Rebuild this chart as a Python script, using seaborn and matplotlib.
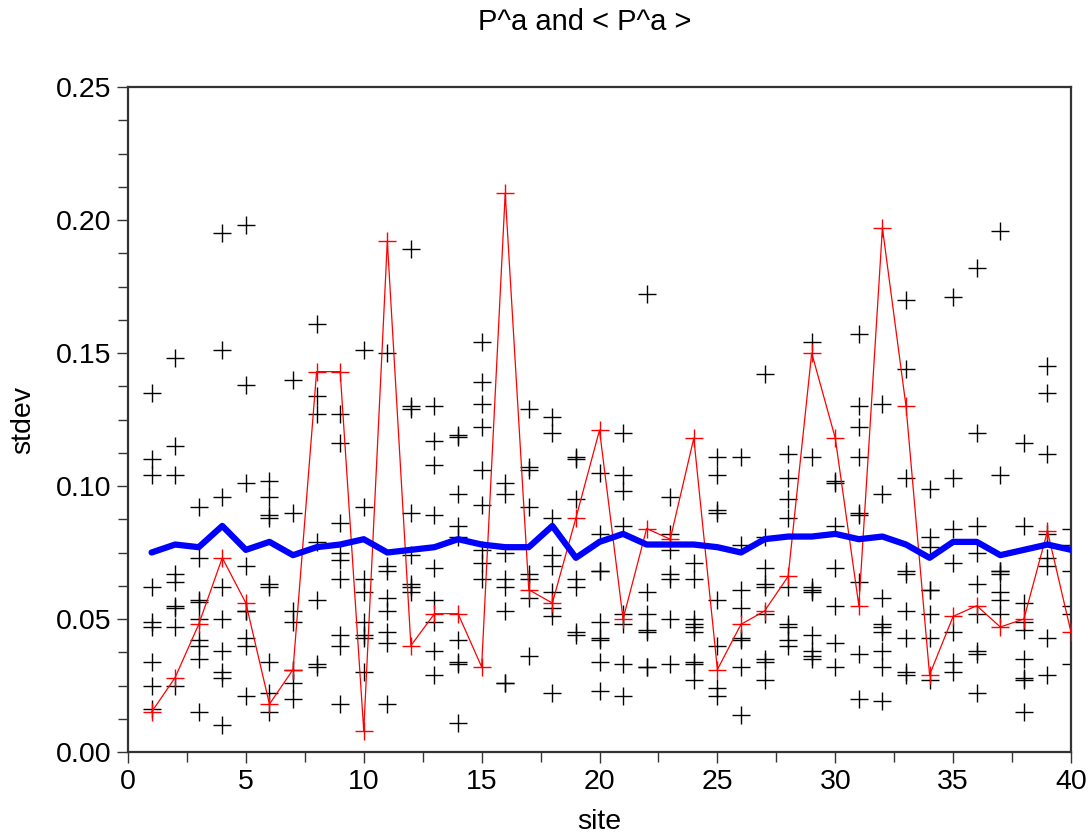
import numpy as np
import pandas as pd
import matplotlib
matplotlib.use("Agg")
import matplotlib.pyplot as plt
import seaborn as sns
from matplotlib.ticker import MultipleLocator, FormatStrFormatter

# ---------------- data ----------------
sites = list(range(1, 41))

# individual P^a samples (black crosses) per site
samples = [
    [0.135, 0.110, 0.104, 0.062, 0.049, 0.047, 0.034, 0.025, 0.016],
    [0.148, 0.115, 0.104, 0.067, 0.064, 0.055, 0.054, 0.047, 0.025],
    [0.092, 0.073, 0.057, 0.0565, 0.050, 0.042, 0.040, 0.035, 0.015],
    [0.195, 0.151, 0.096, 0.062, 0.050, 0.038, 0.030, 0.028, 0.010],
    [0.198, 0.138, 0.101, 0.070, 0.053, 0.053, 0.043, 0.040, 0.021],
    [0.102, 0.096, 0.089, 0.088, 0.063, 0.062, 0.034, 0.022, 0.015],
    [0.140, 0.090, 0.053, 0.049, 0.031, 0.026, 0.020],
    [0.161, 0.134, 0.127, 0.079, 0.057, 0.033, 0.032],
    [0.127, 0.116, 0.086, 0.075, 0.072, 0.065, 0.044, 0.040, 0.018],
    [0.151, 0.092, 0.065, 0.060, 0.049, 0.044, 0.043, 0.030],
    [0.150, 0.070, 0.068, 0.058, 0.053, 0.045, 0.041, 0.018],
    [0.189, 0.130, 0.129, 0.090, 0.074, 0.063, 0.062, 0.060],
    [0.130, 0.117, 0.108, 0.089, 0.069, 0.057, 0.049, 0.038, 0.029],
    [0.119, 0.1185, 0.097, 0.085, 0.081, 0.042, 0.034, 0.033, 0.011],
    [0.154, 0.139, 0.131, 0.122, 0.106, 0.093, 0.076, 0.071, 0.065],
    [0.101, 0.097, 0.075, 0.065, 0.062, 0.053, 0.026, 0.026],
    [0.129, 0.107, 0.106, 0.092, 0.067, 0.065, 0.058, 0.036],
    [0.126, 0.120, 0.088, 0.074, 0.070, 0.060, 0.054, 0.051, 0.022],
    [0.111, 0.110, 0.095, 0.065, 0.062, 0.045, 0.044],
    [0.105, 0.082, 0.068, 0.068, 0.049, 0.043, 0.042, 0.034, 0.023],
    [0.120, 0.104, 0.098, 0.085, 0.052, 0.048, 0.033, 0.021],
    [0.172, 0.060, 0.052, 0.046, 0.045, 0.032, 0.032],
    [0.096, 0.082, 0.076, 0.067, 0.065, 0.050, 0.033],
    [0.071, 0.065, 0.050, 0.048, 0.047, 0.045, 0.034, 0.033, 0.027],
    [0.111, 0.104, 0.091, 0.090, 0.057, 0.040, 0.024, 0.021],
    [0.111, 0.078, 0.061, 0.054, 0.043, 0.042, 0.032, 0.014],
    [0.142, 0.081, 0.069, 0.063, 0.062, 0.052, 0.035, 0.034, 0.027],
    [0.112, 0.103, 0.095, 0.088, 0.062, 0.048, 0.047, 0.042, 0.040],
    [0.154, 0.111, 0.062, 0.061, 0.060, 0.044, 0.038, 0.036, 0.035],
    [0.102, 0.101, 0.085, 0.069, 0.055, 0.041, 0.032],
    [0.157, 0.130, 0.122, 0.111, 0.090, 0.089, 0.064, 0.037, 0.020],
    [0.131, 0.097, 0.058, 0.048, 0.047, 0.045, 0.038, 0.032, 0.019],
    [0.170, 0.144, 0.103, 0.068, 0.067, 0.053, 0.043, 0.030, 0.029],
    [0.099, 0.081, 0.077, 0.061, 0.061, 0.052, 0.043, 0.027],
    [0.171, 0.103, 0.084, 0.071, 0.045, 0.034, 0.030],
    [0.182, 0.120, 0.085, 0.075, 0.063, 0.052, 0.038, 0.037, 0.022],
    [0.196, 0.104, 0.068, 0.068, 0.067, 0.060, 0.057, 0.052],
    [0.116, 0.085, 0.056, 0.049, 0.046, 0.035, 0.028, 0.027, 0.015],
    [0.145, 0.135, 0.112, 0.082, 0.073, 0.070, 0.043, 0.029],
    [0.084, 0.078, 0.068, 0.055, 0.052, 0.033],
]

# one highlighted sample (red)
red_values = [0.015, 0.028, 0.048, 0.073, 0.056, 0.018, 0.031, 0.143, 0.143, 0.008,
              0.192, 0.040, 0.052, 0.052, 0.032, 0.210, 0.061, 0.056, 0.088, 0.121,
              0.050, 0.084, 0.080, 0.118, 0.031, 0.048, 0.053, 0.066, 0.150, 0.118,
              0.055, 0.197, 0.130, 0.029, 0.051, 0.055, 0.047, 0.050, 0.083, 0.045]

# average < P^a > (blue)
mean_values = [0.075, 0.078, 0.077, 0.085, 0.076, 0.079, 0.074, 0.077, 0.078, 0.080,
               0.075, 0.076, 0.077, 0.080, 0.078, 0.077, 0.077, 0.085, 0.073, 0.079,
               0.082, 0.078, 0.078, 0.078, 0.077, 0.075, 0.080, 0.081, 0.081, 0.082,
               0.080, 0.081, 0.078, 0.073, 0.079, 0.079, 0.074, 0.076, 0.078, 0.076]

title_text = "P^a and < P^a >"
x_label = "site"
y_label = "stdev"

# ---------------- frames ----------------
black_df = pd.DataFrame({
    "site": [s for s, vals in zip(sites, samples) for _ in vals],
    "stdev": [v for vals in samples for v in vals],
})
line_df = pd.DataFrame({"site": sites, "red": red_values, "mean": mean_values})

# ---------------- plotting ----------------
sns.set_style("ticks")
plt.rcParams['font.family'] = ['Liberation Sans', 'DejaVu Sans']
plt.rcParams['text.color'] = 'black'
plt.rcParams['axes.labelcolor'] = 'black'
plt.rcParams['xtick.labelcolor'] = 'black'
plt.rcParams['ytick.labelcolor'] = 'black'

fig = plt.figure(figsize=(10.92, 8.35), dpi=100)
ax = fig.add_axes([0.1172, 0.0994, 0.8636, 0.7964])

sns.scatterplot(data=black_df, x="site", y="stdev", marker="+", color="black",
                s=160, linewidth=1.0, ax=ax, zorder=2, legend=False)
sns.lineplot(data=line_df, x="site", y="red", color="red", linewidth=0.9,
             marker="+", markersize=13, markeredgewidth=1.0, markeredgecolor="red",
             ax=ax, zorder=3, legend=False)
sns.lineplot(data=line_df, x="site", y="mean", color="blue", linewidth=4.5,
             ax=ax, zorder=4, legend=False)

ax.set_xlim(0, 40)
ax.set_ylim(0, 0.25)
ax.xaxis.set_major_locator(MultipleLocator(5))
ax.xaxis.set_minor_locator(MultipleLocator(2.5))
ax.yaxis.set_major_locator(MultipleLocator(0.05))
ax.yaxis.set_minor_locator(MultipleLocator(0.0125))
ax.yaxis.set_major_formatter(FormatStrFormatter('%.2f'))

ax.tick_params(axis='both', which='both', direction='out', color='#333333',
               top=False, right=False, labelsize=20.5, width=1.0,
               labelcolor='black')
ax.tick_params(axis='both', which='major', length=8, pad=4)
ax.tick_params(axis='both', which='minor', length=7)

for sp in ax.spines.values():
    sp.set_linewidth(1.6)
    sp.set_color('#333333')

ax.set_xlabel(x_label, fontsize=20.5, labelpad=10, color='black')
ax.set_ylabel(y_label, fontsize=20.5, labelpad=14, color='black')
fig.text(585 / 1092, 1 - 22 / 835, title_text, ha='center', va='center',
         fontsize=21, color='black')

fig.savefig("out.png", dpi=100)
